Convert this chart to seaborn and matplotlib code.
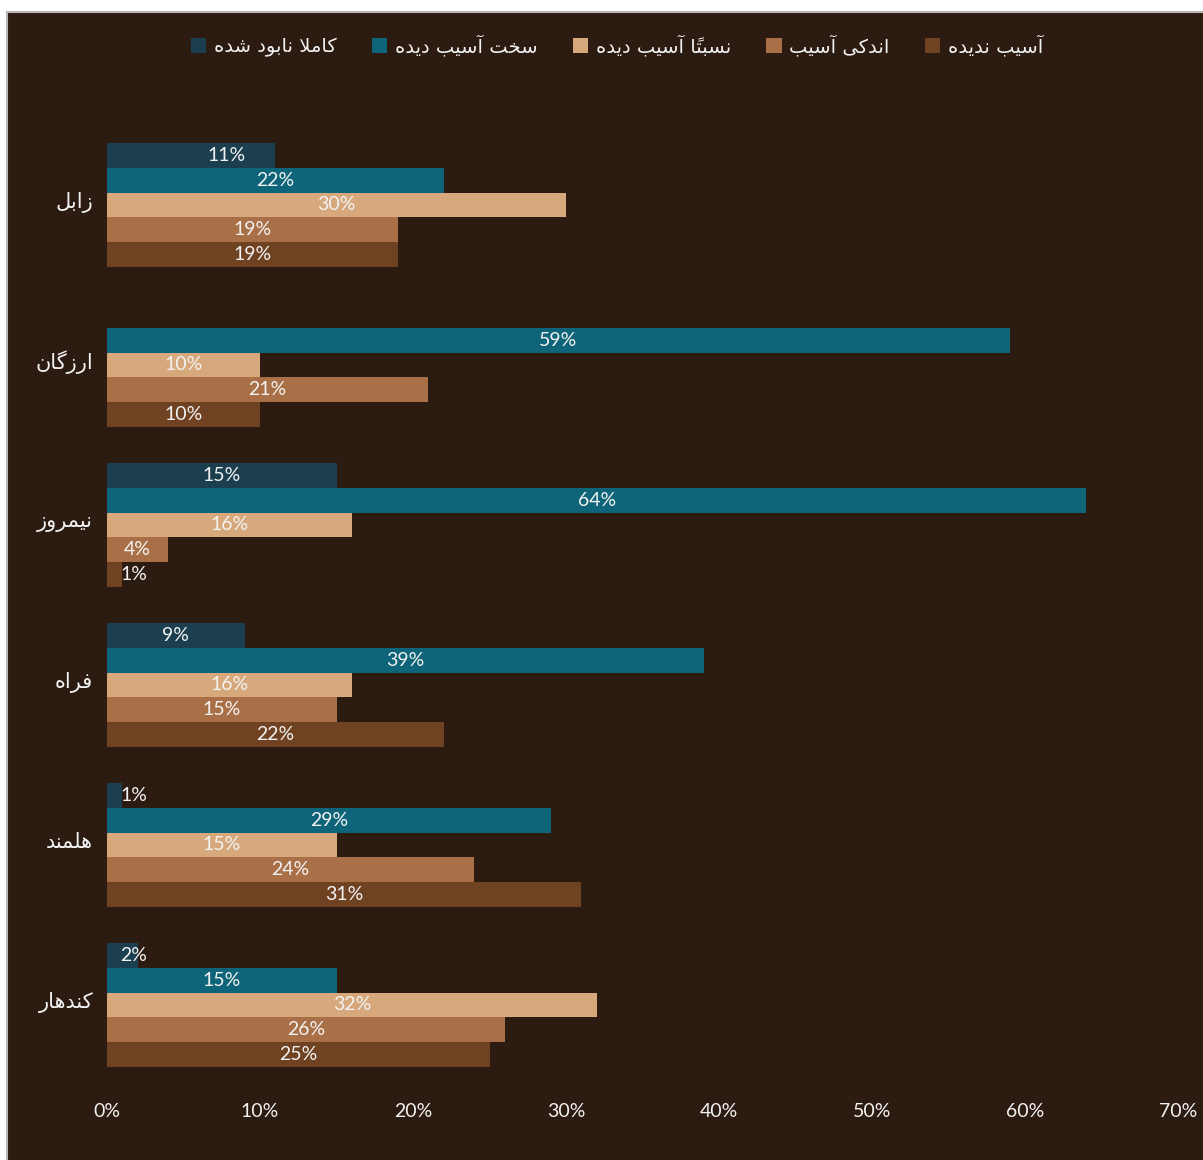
import numpy as np
import pandas as pd
import matplotlib
matplotlib.use("Agg")
import matplotlib.pyplot as plt
import seaborn as sns
from matplotlib.patches import Rectangle, Patch
from matplotlib.transforms import ScaledTranslation

# ---- data -------------------------------------------------------------
provinces = ["زابل", "ارزگان", "نیمروز", "فراه", "هلمند", "کندهار"]
damage_levels = ["کاملا نابود شده", "سخت آسیب دیده", "نسبتاً آسیب دیده",
                 "اندکی آسیب", "آسیب ندیده"]
destroyed = [11, np.nan, 15, 9, 1, 2]
heavy = [22, 59, 64, 39, 29, 15]
partial = [30, 10, 16, 16, 15, 32]
slight = [19, 21, 4, 15, 24, 26]
undamaged = [19, 10, 1, 22, 31, 25]
x_ticks = [0, 10, 20, 30, 40, 50, 60, 70]
x_tick_labels = ["0%", "10%", "20%", "30%", "40%", "50%", "60%", "70%"]

colors = ["#1b3f4f", "#0e6479", "#d6a87b", "#a97047", "#6f4222"]
BG = "#2c1b10"
TXT = "#f2f2f2"

# ---- minimal Persian shaping (presentation forms + visual order) ------
FORMS = {
    "ا": ("\uFE8D", "\uFE8E", None, None),
    "آ": ("\uFE81", "\uFE82", None, None),
    "د": ("\uFEA9", "\uFEAA", None, None),
    "ر": ("\uFEAD", "\uFEAE", None, None),
    "ز": ("\uFEAF", "\uFEB0", None, None),
    "و": ("\uFEED", "\uFEEE", None, None),
    "ب": ("\uFE8F", "\uFE90", "\uFE91", "\uFE92"),
    "ت": ("\uFE95", "\uFE96", "\uFE97", "\uFE98"),
    "خ": ("\uFEA5", "\uFEA6", "\uFEA7", "\uFEA8"),
    "س": ("\uFEB1", "\uFEB2", "\uFEB3", "\uFEB4"),
    "ش": ("\uFEB5", "\uFEB6", "\uFEB7", "\uFEB8"),
    "ف": ("\uFED1", "\uFED2", "\uFED3", "\uFED4"),
    "ل": ("\uFEDD", "\uFEDE", "\uFEDF", "\uFEE0"),
    "م": ("\uFEE1", "\uFEE2", "\uFEE3", "\uFEE4"),
    "ن": ("\uFEE5", "\uFEE6", "\uFEE7", "\uFEE8"),
    "ه": ("\uFEE9", "\uFEEA", "\uFEEB", "\uFEEC"),
    "ک": ("\uFB8E", "\uFB8F", "\uFB90", "\uFB91"),
    "گ": ("\uFB92", "\uFB93", "\uFB94", "\uFB95"),
    "ی": ("\uFBFC", "\uFBFD", "\uFBFE", "\uFBFF"),
}
LAM_ALEF = {"ا": ("\uFEFB", "\uFEFC"), "آ": ("\uFEF5", "\uFEF6")}


def shape(text):
    tokens = []  # [base, marks]
    for ch in text:
        if 0x064B <= ord(ch) <= 0x0652 and tokens:
            tokens[-1][1] += ch
        else:
            tokens.append([ch, ""])
    # merge lam + alef
    merged = []
    i = 0
    while i < len(tokens):
        if (tokens[i][0] == "ل" and i + 1 < len(tokens)
                and tokens[i + 1][0] in LAM_ALEF):
            merged.append(["LA" + tokens[i + 1][0], tokens[i][1] + tokens[i + 1][1]])
            i += 2
        else:
            merged.append(tokens[i])
            i += 1

    def joins_back(t):
        return t[0] in FORMS or t[0].startswith("LA")

    def joins_fwd(t):
        return t[0] in FORMS and FORMS[t[0]][2] is not None

    out = []
    for k, tok in enumerate(merged):
        prev_j = k > 0 and joins_fwd(merged[k - 1]) and joins_back(tok)
        next_j = (joins_fwd(tok) and k + 1 < len(merged)
                  and joins_back(merged[k + 1]))
        base = tok[0]
        if base.startswith("LA"):
            g = LAM_ALEF[base[2]][1 if prev_j else 0]
        elif base in FORMS:
            iso, fin, ini, med = FORMS[base]
            if prev_j and next_j:
                g = med
            elif prev_j:
                g = fin
            elif next_j:
                g = ini
            else:
                g = iso
        else:
            g = base
        out.append(g + tok[1])
    return "".join(reversed(out))


# ---- long table for seaborn --------------------------------------------
series = [destroyed, heavy, partial, slight, undamaged]
rows = []
for lvl, vals in zip(damage_levels, series):
    for prov, v in zip(provinces, vals):
        rows.append({"province": shape(prov), "level": shape(lvl), "value": v})
df = pd.DataFrame(rows)
levels_disp = [shape(l) for l in damage_levels]
prov_disp = [shape(p) for p in provinces]

# ---- figure --------------------------------------------------------------
W, H = 1203, 1160
fig = plt.figure(figsize=(W / 100, H / 100), dpi=100, facecolor="white")
fig.add_artist(Rectangle((7 / W, -0.02), 1.05, 1.02 - 12 / H,
                         transform=fig.transFigure, facecolor=BG,
                         edgecolor="#b8b8b8", linewidth=1.5, zorder=0))

ax = fig.add_axes([107 / W, 1 - 1085 / H, (1178 - 107) / W, (1085 - 125) / H])
ax.set_facecolor("none")

sns.barplot(data=df, y="province", x="value", hue="level", orient="h",
            order=prov_disp, hue_order=levels_disp, palette=colors,
            width=0.77, errorbar=None, linewidth=0, saturation=1,
            legend=False, ax=ax)

ax.set_xlim(0, 70)
ax.set_ylim(len(provinces) - 0.5, -0.5)
ax.set_xticks(x_ticks)
ax.set_xticklabels(x_tick_labels, fontfamily="Lato", fontsize=14, color=TXT)
ax.set_yticks(range(len(provinces)))
ax.set_yticklabels(prov_disp, fontfamily="DejaVu Sans", fontsize=15, color=TXT)
ax.tick_params(axis="x", length=0, pad=13)
ax.tick_params(axis="y", length=0, pad=10)
lift = ScaledTranslation(0, 5 / 100, fig.dpi_scale_trans)
for lbl in ax.get_yticklabels():
    lbl.set_transform(lbl.get_transform() + lift)
ax.set_xlabel("")
ax.set_ylabel("")
for s in ax.spines.values():
    s.set_visible(False)
ax.grid(False)

# ---- value labels ----------------------------------------------------------
label_shift = {(0, 0): 2.3}
for si, cont in enumerate(ax.containers):
    for bar in cont:
        w = bar.get_width()
        if not np.isfinite(w) or w <= 0:
            continue
        yc = bar.get_y() + bar.get_height() / 2
        pi = int(round(yc))
        if w < 3:
            ax.text(0.85, yc, f"{w:.0f}%", ha="left", va="center",
                    fontfamily="Lato", fontsize=14, color=TXT)
        else:
            ax.text(w / 2 + label_shift.get((si, pi), 0), yc, f"{w:.0f}%",
                    ha="center", va="center", fontfamily="Lato",
                    fontsize=14, color=TXT)

# ---- legend ---------------------------------------------------------------
handles = [Patch(facecolor=c, edgecolor="none") for c in colors]
fig.legend(handles, levels_disp, loc="center", bbox_to_anchor=(617 / W, 1 - 46 / H),
           ncol=5, frameon=False, labelcolor=TXT,
           handlelength=0.8, handleheight=0.8, handletextpad=0.4,
           columnspacing=1.8, prop={"family": "DejaVu Sans", "size": 14})

fig.savefig("out.png", dpi=100, facecolor="white")
